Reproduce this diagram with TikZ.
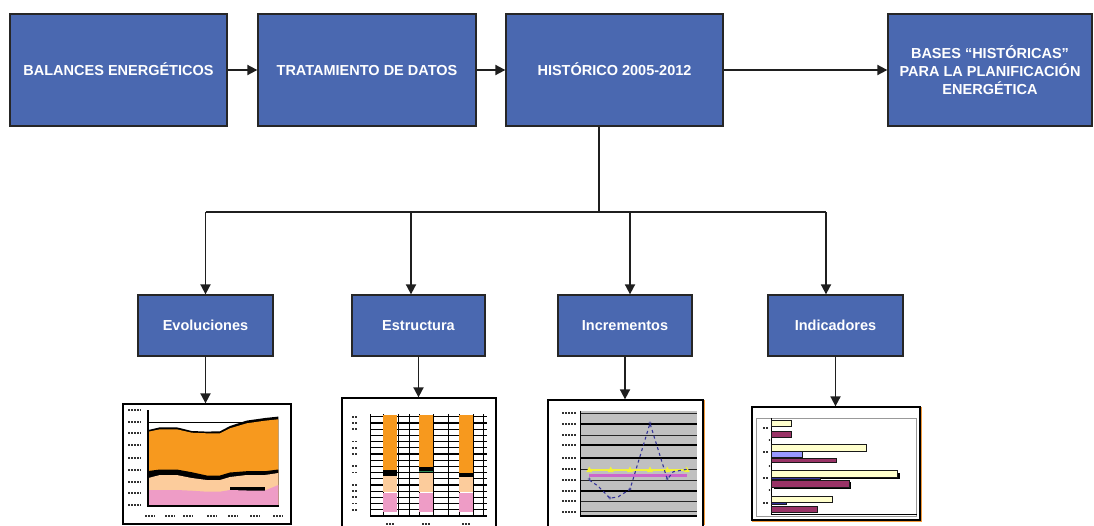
\documentclass[tikz,border=0pt]{standalone}
\usepackage{fontspec}
\setmainfont{Liberation Sans}
\usetikzlibrary{arrows.meta}
\definecolor{boxblue}{HTML}{4A68B0}
\definecolor{orangec}{HTML}{F7991E}
\definecolor{peachc}{HTML}{FCCC9C}
\definecolor{pinkc}{HTML}{EE9CC6}
\definecolor{grayc}{HTML}{C0C0C0}
\definecolor{creamc}{HTML}{FFFFCC}
\definecolor{magc}{HTML}{993366}
\definecolor{lavc}{HTML}{9999FF}
\definecolor{navyc}{HTML}{333399}
\definecolor{yelc}{HTML}{F2F23A}
\definecolor{pinklc}{HTML}{CC66CC}
\definecolor{greenc}{HTML}{2E8B57}
\definecolor{edgeo}{HTML}{F39A3A}
\begin{document}
\begin{tikzpicture}[x=1pt,y=-1pt,
  box/.style={draw=black!85, line width=1.3pt, fill=boxblue, text=white,
    font=\bfseries\fontsize{14.5}{18}\selectfont, align=center, inner sep=0pt},
  oneline/.style={text height=10.4pt, text depth=0pt},
  chartframe/.style={draw=black, line width=1.3pt, fill=white, inner sep=0pt},
  conn/.style={draw=black!88, line width=1.8pt},
  arr/.style={conn, -{Triangle[length=10pt,width=10pt]}},
  lbl/.style={line width=1.7pt, dash pattern=on 2pt off 1pt, black!80},
]
\useasboundingbox (0,0) rectangle (1094,525);
\clip (0,0) rectangle (1094,525);

% ---------- top row ----------
\node[box, oneline, minimum width=217pt, minimum height=112pt] (b1) at (118.5,70) {BALANCES ENERGÉTICOS};
\node[box, oneline, minimum width=218pt, minimum height=112pt] (b2) at (367,70) {TRATAMIENTO DE DATOS};
\node[box, oneline, minimum width=217pt, minimum height=112pt] (b3) at (614.5,70) {HISTÓRICO 2005-2012};
\node[box, minimum width=204pt, minimum height=112pt] (b4) at (990,70) {BASES “HISTÓRICAS”\\PARA LA PLANIFICACIÓN\\ENERGÉTICA};

\draw[arr] (b1.east) -- (b2.west);
\draw[arr] (b2.east) -- (b3.west);
\draw[arr] (b3.east) -- (b4.west);

% ---------- second row ----------
\node[box, oneline, minimum width=135pt, minimum height=61pt] (e1) at (205.5,325.5) {Evoluciones};
\node[box, oneline, minimum width=133pt, minimum height=61pt] (e2) at (418.5,325.5) {Estructura};
\node[box, oneline, minimum width=134pt, minimum height=61pt] (e3) at (625,325.5) {Incrementos};
\node[box, oneline, minimum width=135pt, minimum height=61pt] (e4) at (835.5,325.5) {Indicadores};

\coordinate (split) at (599,212);
\coordinate (t1) at (205.5,212);
\coordinate (t2) at (411,212);
\coordinate (t3) at (630,212);
\coordinate (t4) at (826,212);
\draw[conn] (b3.south -| split) -- (split);
\draw[conn] (t1) -- (t4);
\draw[arr] (t1) -- (t1 |- e1.north);
\draw[arr] (t2) -- (t2 |- e2.north);
\draw[arr] (t3) -- (t3 |- e3.north);
\draw[arr] (t4) -- (t4 |- e4.north);

% ---------- chart frames ----------
\node[chartframe, minimum width=168pt, minimum height=120pt] (c1) at (207,464) {};
\node[chartframe, minimum width=154pt, minimum height=137pt] (c2) at (419,466.5) {};
\node[chartframe, minimum width=155pt, minimum height=135pt] (c3) at (625.5,467.5) {};
\node[chartframe, minimum width=168pt, minimum height=113pt] (c4) at (836,463.5) {};

\draw[arr] (e1.south) -- (e1.south |- c1.north);
\draw[arr] (e2.south) -- (e2.south |- c2.north);
\draw[arr] (e3.south) -- (e3.south |- c3.north);
\draw[arr] (e4.south) -- (e4.south |- c4.north);

% ---------- chart 1: Evoluciones (stacked area) ----------
\draw[black, line width=1.2pt] (148.3,422.3) -- (278.3,422.3);
\fill[black] (148.3,506) -- (148.3,430) -- (160,427.3) -- (176.7,427.3) -- (191.7,431) -- (206.7,431.6) -- (220,431.3) -- (230,426) -- (246.7,420.6) -- (265,418) -- (278.3,416.6) -- (278.3,506) -- cycle;
\fill[orangec] (148.3,506) -- (148.3,431.7) -- (160,429.3) -- (176.7,429.3) -- (191.7,432.7) -- (206.7,433.3) -- (220,433.3) -- (230,428.3) -- (246.7,423.3) -- (265,420.7) -- (278.3,419.3) -- (278.3,506) -- cycle;
\fill[black] (148.3,506) -- (148.3,471) -- (160,469.5) -- (176.7,469.5) -- (191.7,472.2) -- (206.7,475.5) -- (220,475.5) -- (230,472.5) -- (246.7,471.2) -- (265,471.2) -- (278.3,469.5) -- (278.3,506) -- cycle;
\fill[peachc] (148.3,506) -- (148.3,478) -- (160,475) -- (176.7,475) -- (191.7,478) -- (206.7,480) -- (220,480) -- (230,477) -- (246.7,475) -- (265,475) -- (278.3,473) -- (278.3,506) -- cycle;
\fill[black] (230,486.5) rectangle (265,491);
\fill[pinkc] (148.3,506) -- (148.3,490) -- (176.7,490) -- (191.7,490.7) -- (206.7,491.7) -- (220,491.7) -- (230,490) -- (246.7,490.5) -- (265,490.5) -- (278.3,485) -- (278.3,506) -- cycle;
\draw[black, line width=1.7pt] (148.3,410) -- (148.3,506) -- (279,506);
\foreach \yy in {410,422,433,445,458,470,482,493,505}
  \draw[lbl] (128,\yy) -- (141,\yy);
\foreach \xx in {150,170,188,212,233,255,278}
  \draw[lbl] (\xx-5,516) -- (\xx+5,516);

% ---------- chart 2: Estructura (stacked bars) ----------
\foreach \yy in {416.7,422.9,429.1,435.3,441.5,447.7,453.9,460.1,466.3,472.5,478.7,484.9,491.1,497.3,503.5,509.7}
  \draw[black, line width=1.2pt] (370.7,\yy) -- (486.7,\yy);
\foreach \xx in {383.3,398.3,409,419.3,433.3,448.3,459,473.3,483.3}
  \draw[black, line width=0.9pt] (\xx,414) -- (\xx,516);
\draw[black, line width=1.5pt] (370.7,414) -- (370.7,516) -- (486.7,516);
% bar 1
\fill[orangec] (383.3,415) rectangle (396.7,470);
\fill[black] (383.3,470) rectangle (396.7,476);
\fill[peachc] (383.3,476) rectangle (396.7,491.7);
\fill[pinkc] (383.3,492.7) rectangle (396.7,511.7);
% bar 2
\fill[orangec] (419.3,415) rectangle (433.3,467.3);
\fill[black] (419.3,467.3) rectangle (433.3,473.3);
\draw[greenc, line width=1pt] (419.3,471.5) -- (433.3,471.5);
\fill[peachc] (419.3,473.3) rectangle (433.3,491.7);
\fill[pinkc] (419.3,492.7) rectangle (433.3,511.7);
% bar 3
\fill[orangec] (459,415) rectangle (472.7,473.3);
\fill[black] (459,473.3) rectangle (472.7,476.7);
\fill[peachc] (459,476.7) rectangle (472.7,491.7);
\fill[pinkc] (459,492.7) rectangle (472.7,511.7);
\foreach \yy in {416.7,422.9,429.1,441.5,447.7,453.9,466.3,472.5,484.9,491.1,497.3,503.5,509.7}
  \draw[lbl] (352,\yy) -- (358,\yy);
\foreach \xx in {390,426,466}
  \draw[lbl] (\xx-4,524) -- (\xx+4,524);

% ---------- chart 3: Incrementos (line chart) ----------
\draw[edgeo, line width=1.2pt] (704.5,400) -- (704.5,525);
\fill[grayc] (580.7,410.7) rectangle (696.7,516);
\foreach \yy in {424.3,445,458.3,490.7}
  \draw[black, line width=1.9pt] (580.7,\yy) -- (696.7,\yy);
\foreach \yy in {413.3,435,469.3,480,501,511.7}
  \draw[black!85, line width=1pt] (580.7,\yy) -- (696.7,\yy);
\draw[black, line width=1.5pt] (580.7,410.7) -- (580.7,516) -- (696.7,516);
\foreach \yy in {413.3,424.3,435,445,458.3,469.3,480,490.7,501,511.7}
  \draw[lbl] (562,\yy) -- (577,\yy);
\draw[pinklc, line width=2.6pt] (589.3,475.7) -- (686.7,475.7);
\draw[yelc, line width=1.6pt] (589.3,470) -- (686.7,470);
\foreach \xx in {589.3,610.7,630,650,667.3,686.7}
  \fill[yelc] (\xx-3,472) -- (\xx+3,472) -- (\xx,466.5) -- cycle;
\draw[navyc, line width=1.1pt, dashed] (589.3,480) -- (598,486) -- (610,498.3) -- (618.3,496.7) -- (630,489.3) -- (650,423.3) -- (667.3,479.3) -- (673.3,471.7) -- (686.7,469.3);
\foreach \p in {(589.3,480),(610,498.3),(630,489.3),(650,423.3),(667.3,479.3)}
  \node[navyc, inner sep=0pt, font=\bfseries\fontsize{6}{6}\selectfont] at \p {+};

% ---------- chart 4: Indicadores (horizontal bars) ----------
\draw[edgeo, line width=1.4pt] (921.5,407.3) -- (921.5,521.5) -- (751.7,521.5);
\draw[black!40, line width=0.9pt] (756.7,418.3) rectangle (916.7,516.7);
\draw[black, line width=1.4pt] (771.7,418.3) -- (771.7,514.5) -- (916.7,514.5);
\foreach \yy in {428.3,451.7,478.3,503.3}
  \draw[lbl] (763,\yy) -- (769,\yy);
\foreach \yy in {440,466,490}
  \fill[black] (769.5,\yy) circle (0.9pt);
\tikzset{hb/.style={draw=black!90, line width=0.8pt}}
\filldraw[hb, fill=creamc] (771.7,420) rectangle (791,426);
\filldraw[hb, fill=magc] (771.7,431.7) rectangle (791,437.7);
\filldraw[hb, fill=creamc] (771.7,444.3) rectangle (866.7,451);
\filldraw[hb, fill=lavc] (771.7,451.7) rectangle (802.3,457.7);
\filldraw[hb, fill=magc] (771.7,458.3) rectangle (836.7,462.7);
\fill[black] (773.5,472.5) rectangle (899.5,479);
\filldraw[hb, fill=creamc] (771.7,470.7) rectangle (897.7,477.3);
\filldraw[hb, fill=navyc] (771.7,477.3) rectangle (820,479.3);
\fill[black] (773.5,482) rectangle (851,489);
\filldraw[hb, fill=magc] (771.7,480) rectangle (849,487.3);
\filldraw[hb, fill=creamc] (771.7,496) rectangle (832.7,502);
\filldraw[hb, fill=navyc] (771.7,502.3) rectangle (786.7,504.3);
\filldraw[hb, fill=magc] (771.7,506.7) rectangle (817.7,512);
\end{tikzpicture}
\end{document}
